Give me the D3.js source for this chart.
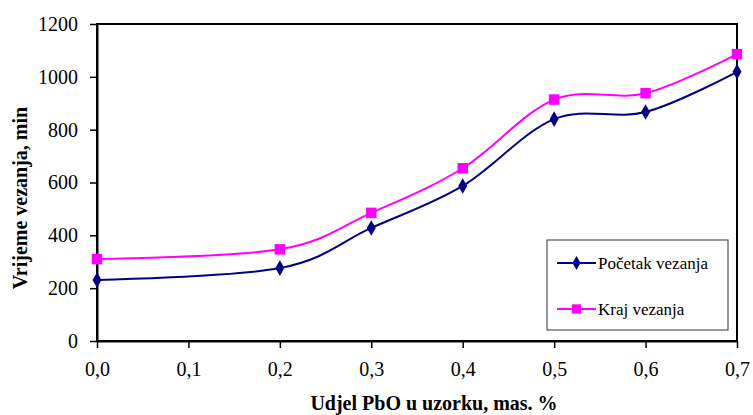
<!DOCTYPE html>
<html><head><meta charset="utf-8">
<script src="https://cdn.jsdelivr.net/npm/d3@7"></script>
<style>body{margin:0;background:#fff}svg{display:block}</style>
</head><body>
<svg id="c" width="753" height="415"></svg>
<script>
const xValues = [0.0, 0.2, 0.3, 0.4, 0.5, 0.6, 0.7];
const pocetak = [231, 276, 428, 587, 840, 867, 1019];
const kraj = [310, 347, 485, 654, 914, 938, 1086];
const xTicks = [0, 0.1, 0.2, 0.3, 0.4, 0.5, 0.6, 0.7];
const yTicks = [0, 200, 400, 600, 800, 1000, 1200];
const seriesNames = ["Početak vezanja", "Kraj vezanja"];

const svg = d3.select("#c");
const L = 97, R = 737, T = 24, B = 341;
const x = d3.scaleLinear().domain([0, 0.7]).range([L, R]);
const y = d3.scaleLinear().domain([0, 1200]).range([B, T]);
const font = "'Liberation Serif', serif";
const serif = sel => sel.style("font-family", font, "important");

svg.append("rect").attr("x", L).attr("y", T).attr("width", R - L).attr("height", B - T)
  .attr("fill", "none").attr("stroke", "#000").attr("stroke-width", 2);

const fmt = d => d.toFixed(1).replace(".", ",");
const xAxis = svg.append("g").attr("transform", `translate(0,${B})`)
  .call(d3.axisBottom(x).tickValues(xTicks).tickFormat(fmt).tickSize(7).tickSizeOuter(0).tickPadding(14));
const yAxis = svg.append("g").attr("transform", `translate(${L},0)`)
  .call(d3.axisLeft(y).tickValues(yTicks).tickFormat(d3.format("d")).tickSize(7).tickSizeOuter(0).tickPadding(12));
[xAxis, yAxis].forEach(g => {
  g.attr("font-family", null).attr("font-size", null);
  g.select(".domain").attr("stroke", "#000").attr("stroke-width", 2);
  g.selectAll(".tick line").attr("stroke", "#000").attr("stroke-width", 1.5);
  g.selectAll("text").attr("fill", "#000").style("font-size", "20px").call(serif);
});

svg.append("text").attr("x", 434).attr("y", 410).attr("text-anchor", "middle")
  .style("font-size", "20px").style("font-weight", "bold").call(serif)
  .text("Udjel PbO u uzorku, mas. %");
svg.append("text").attr("transform", "translate(27,198) rotate(-90)").attr("text-anchor", "middle")
  .style("font-size", "20px").style("font-weight", "bold").call(serif)
  .text("Vrijeme vezanja, min");

const line = d3.line().x(d => x(d[0])).y(d => y(d[1])).curve(d3.curveCardinal.tension(0));
const series = [
  {name: seriesNames[0], vals: pocetak, color: "#000080", sym: d3.symbolDiamond, size: 70},
  {name: seriesNames[1], vals: kraj, color: "#FF00FF", sym: d3.symbolSquare, size: 110}
];
series.forEach(s => {
  const pts = xValues.map((v, i) => [v, s.vals[i]]);
  svg.append("path").attr("d", line(pts)).attr("fill", "none").attr("stroke", s.color).attr("stroke-width", 2);
  svg.selectAll(null).data(pts).enter().append("path")
    .attr("d", d3.symbol().type(s.sym).size(s.size))
    .attr("transform", d => `translate(${x(d[0])},${y(d[1])})`)
    .attr("fill", s.color);
});

const lg = svg.append("g");
lg.append("rect").attr("x", 547).attr("y", 240).attr("width", 181).attr("height", 90)
  .attr("fill", "#fff").attr("stroke", "#333").attr("stroke-width", 1);
series.forEach((s, i) => {
  const ly = 263 + i * 46;
  lg.append("line").attr("x1", 557).attr("x2", 596).attr("y1", ly).attr("y2", ly)
    .attr("stroke", s.color).attr("stroke-width", 2);
  lg.append("path").attr("d", d3.symbol().type(s.sym).size(s.size * 0.8)())
    .attr("transform", `translate(576.5,${ly})`).attr("fill", s.color);
  lg.append("text").attr("x", 598).attr("y", ly + 6)
    .style("font-size", "17px").call(serif).text(s.name);
});
</script>
</body></html>
